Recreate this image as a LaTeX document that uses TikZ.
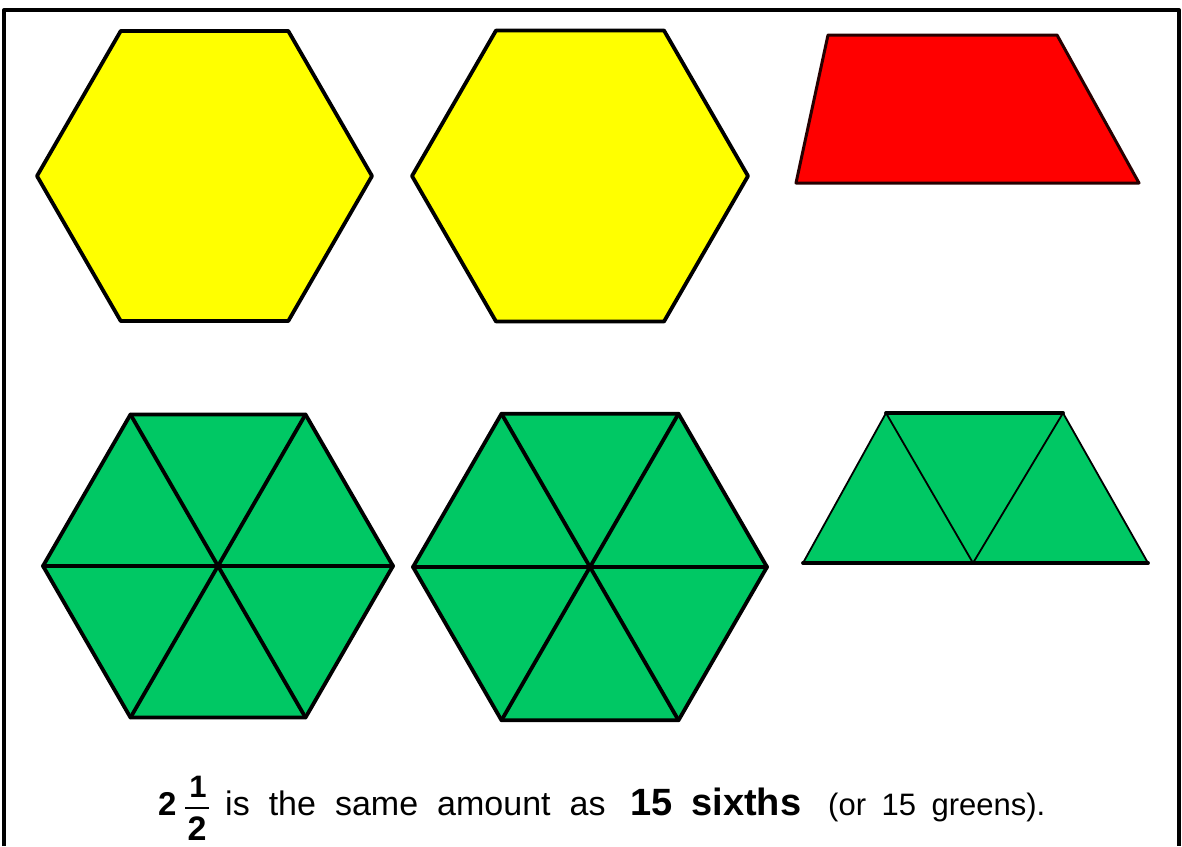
\documentclass[tikz,border=0pt]{standalone}
\usepackage{fontspec}
\setmainfont{Liberation Sans}
\definecolor{blockyellow}{HTML}{FFFF00}
\definecolor{blockred}{HTML}{FF0000}
\definecolor{blockgreen}{HTML}{00C864}
\newcommand{\yellowhex}[3]{\filldraw[fill=blockyellow,line width=3.8pt] (#1,#2) +(0:#3) \foreach \a in {60,120,...,300}{-- +(\a:#3)} -- cycle;}
\newcommand{\greenhex}[3]{%
  \filldraw[fill=blockgreen,line width=3.8pt] (#1,#2) +(0:#3) \foreach \a in {60,120,...,300}{-- +(\a:#3)} -- cycle;
  \foreach \a in {0,60,120}{\draw[line width=3.8pt] (#1,#2) +(\a:#3) -- +(\a+180:#3);}}

\begin{document}
\begin{tikzpicture}[x=1pt,y=-1pt,line cap=round,line join=round,
  caption/.style={anchor=base west,inner sep=0pt,font=\fontsize{34}{40}\selectfont}]
  \useasboundingbox (0,0) rectangle (1182,846);
  \fill[white] (0,0) rectangle (1182,846);
  \draw[line width=4pt,line cap=butt] (4,846) -- (4,10) -- (1179,10) -- (1179,846);
  \yellowhex{204.5}{176}{167.5}
  \yellowhex{580}{176}{168}
  \filldraw[fill=blockred,draw=black!85!red,line width=3pt] (828,35) -- (1057,35) -- (1139,183) -- (796,183) -- cycle;
  \greenhex{218}{566}{175}
  \greenhex{590}{567}{177}
  \fill[blockgreen] (886,413) -- (1063,413) -- (1148,563) -- (803,563) -- cycle;
  \draw[line width=1.8pt] (803,563) -- (886,413) -- (973,563) -- (1063,413) -- (1148,563);
  \draw[line width=3.8pt] (886,413) -- (1063,413) (803,563) -- (1148,563);
  \node[caption,font=\fontsize{33}{40}\selectfont\bfseries] (whole) at (158,815) {2};
  \node[anchor=base,inner sep=0pt,font=\fontsize{31}{36}\selectfont\bfseries] (numer) at (198,797) {1};
  \node[anchor=base,inner sep=0pt,font=\fontsize{34}{38}\selectfont\bfseries] (denom) at (197,840) {2};
  \draw[line width=1.5pt,line cap=butt] (185,808) -- (209,808);
  \node[caption] (plain) at (225,815) {\spaceskip=0.56em is the same amount as};
  \node[caption,font=\fontsize{38}{44}\selectfont\bfseries] (sixths) at (630,815) {\spaceskip=0.5em 15 sixths};
  \node[caption,font=\fontsize{31}{36}\selectfont] (greens) at (828,815) {\spaceskip=0.5em (or 15 greens).};
\end{tikzpicture}
\end{document}
